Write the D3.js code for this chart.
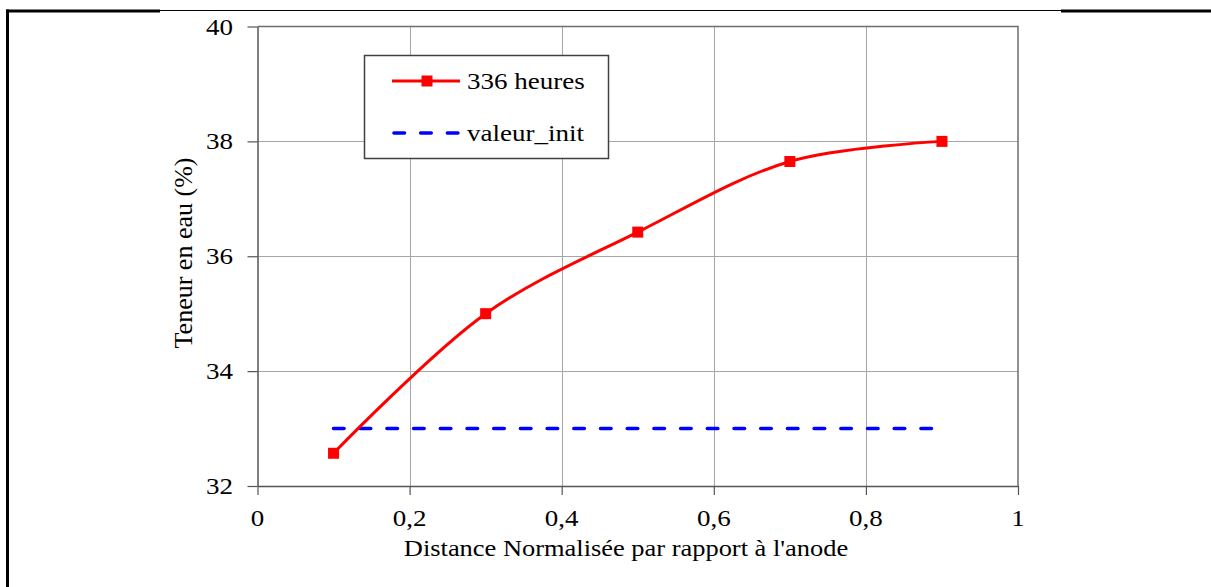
<!DOCTYPE html>
<html>
<head>
<meta charset="utf-8">
<script src="https://cdn.jsdelivr.net/npm/d3@7"></script>
<style>
  html, body { margin: 0; padding: 0; background: #fff; }
  svg { display: block; }
  text { font-family: "Liberation Serif", "Times New Roman", serif; fill: #000; }
</style>
</head>
<body>
<svg id="chart" width="1211" height="587"></svg>
<script>
// ---- data ----
const distances = [0.1, 0.3, 0.5, 0.7, 0.9];
const teneur336 = [32.57, 35.0, 36.42, 37.65, 38.0];
const valeurInit = [33.0, 33.0];
const valeurInitX = [0.1, 0.9];
const xTicks = [0, 0.2, 0.4, 0.6, 0.8, 1];
const yTicks = [32, 34, 36, 38, 40];
const seriesNames = ["336 heures", "valeur_init"];
const xTitle = "Distance Normalisée par rapport à l'anode";
const yTitle = "Teneur en eau (%)";

// ---- layout ----
const W = 1211, H = 587;
const plot = { left: 257.5, top: 26.5, right: 1018, bottom: 486 };
const svg = d3.select("#chart");

const x = d3.scaleLinear().domain([0, 1]).range([plot.left, plot.right]);
const y = d3.scaleLinear().domain([32, 40]).range([plot.bottom, plot.top]);
const fmt = d => String(d).replace(".", ",");
const SX = 1.15; // horizontal glyph stretch of the reference

// page frame (table border)
svg.append("line").attr("x1", 7.5).attr("x2", 7.5).attr("y1", 9.5).attr("y2", H)
  .attr("stroke", "#000").attr("stroke-width", 3);
svg.append("line").attr("x1", 6).attr("x2", 160).attr("y1", 11).attr("y2", 11)
  .attr("stroke", "#000").attr("stroke-width", 3);
svg.append("line").attr("x1", 160).attr("x2", 1061).attr("y1", 10.5).attr("y2", 10.5)
  .attr("stroke", "#000").attr("stroke-width", 1);
svg.append("line").attr("x1", 1061).attr("x2", 1211).attr("y1", 11).attr("y2", 11)
  .attr("stroke", "#000").attr("stroke-width", 3);

// grid
const grid = svg.append("g");
grid.selectAll("line.gx").data(xTicks.slice(1, -1)).join("line")
  .attr("x1", d => Math.round(x(d)) + 0.5).attr("x2", d => Math.round(x(d)) + 0.5)
  .attr("y1", plot.top).attr("y2", plot.bottom)
  .attr("stroke", "#a6a6a6").attr("stroke-width", 1);
grid.selectAll("line.gy").data(yTicks.slice(1, -1)).join("line")
  .attr("y1", d => Math.round(y(d)) + 0.5).attr("y2", d => Math.round(y(d)) + 0.5)
  .attr("x1", plot.left).attr("x2", plot.right)
  .attr("stroke", "#a6a6a6").attr("stroke-width", 1);

// plot border top/right
svg.append("path")
  .attr("d", `M${plot.left},${plot.top}H${plot.right}V${plot.bottom}`)
  .attr("fill", "none").attr("stroke", "#6e6e6e").attr("stroke-width", 1.5);

// axes
const xAxis = d3.axisBottom(x).tickValues(xTicks).tickFormat(() => "").tickSize(9).tickSizeOuter(0);
const yAxis = d3.axisLeft(y).tickValues(yTicks).tickFormat(() => "").tickSize(10).tickSizeOuter(0);
const gx = svg.append("g").attr("transform", `translate(0,${plot.bottom})`).call(xAxis);
const gy = svg.append("g").attr("transform", `translate(${plot.left},0)`).call(yAxis);
[gx, gy].forEach(g => {
  g.select(".domain").attr("stroke", "#555").attr("stroke-width", 1.5);
  g.selectAll(".tick line").attr("stroke", "#555").attr("stroke-width", 1.2);
});

// tick labels
svg.append("g").selectAll("text").data(xTicks).join("text")
  .attr("transform", d => `translate(${x(d)},526) scale(${SX},1)`)
  .attr("text-anchor", "middle").style("font-size", "23.5px").text(fmt);
svg.append("g").selectAll("text").data(yTicks).join("text")
  .attr("transform", d => `translate(233,${y(d) + 8}) scale(${SX},1)`)
  .attr("text-anchor", "end").style("font-size", "23.5px").text(fmt);

// axis titles
svg.append("text")
  .attr("transform", `translate(626,556) scale(${SX},1)`)
  .attr("text-anchor", "middle").style("font-size", "23px").text(xTitle);
svg.append("text")
  .attr("transform", `translate(192,253) rotate(-90)`)
  .attr("text-anchor", "middle").style("font-size", "26px").text(yTitle);

// series
const pts = distances.map((d, i) => [d, teneur336[i]]);
svg.append("path").datum(valeurInitX.map((d, i) => [d, valeurInit[i]]))
  .attr("d", d3.line().x(d => x(d[0])).y(d => y(d[1])))
  .attr("fill", "none").attr("stroke", "#0000ff").attr("stroke-width", 3.6)
  .attr("stroke-linecap", "round").attr("stroke-dasharray", "10.5,16.2");

svg.append("path").datum(pts)
  .attr("d", d3.line().x(d => x(d[0])).y(d => y(d[1])).curve(d3.curveCatmullRom.alpha(0.5)))
  .attr("fill", "none").attr("stroke", "#ff0000").attr("stroke-width", 3);
svg.append("g").selectAll("rect").data(pts).join("rect")
  .attr("x", d => x(d[0]) - 5.5).attr("y", d => y(d[1]) - 5.5)
  .attr("width", 11).attr("height", 11).attr("fill", "#ff0000");

// legend
const lg = svg.append("g");
lg.append("rect").attr("x", 364.5).attr("y", 55.5).attr("width", 244).attr("height", 103)
  .attr("fill", "#fff").attr("stroke", "#404040").attr("stroke-width", 1.5);
lg.append("line").attr("x1", 392).attr("x2", 460).attr("y1", 81).attr("y2", 81)
  .attr("stroke", "#ff0000").attr("stroke-width", 3);
lg.append("rect").attr("x", 427 - 5.5).attr("y", 81 - 5.5).attr("width", 11).attr("height", 11)
  .attr("fill", "#ff0000");
lg.append("line").attr("x1", 394).attr("x2", 460).attr("y1", 133).attr("y2", 133)
  .attr("stroke", "#0000ff").attr("stroke-width", 3.6).attr("stroke-linecap", "round")
  .attr("stroke-dasharray", "10.5,16.2");
lg.selectAll("text").data(seriesNames).join("text")
  .attr("transform", (d, i) => `translate(467,${i === 0 ? 89 : 141}) scale(${SX},1)`)
  .style("font-size", "23.5px").text(d => d);
</script>
</body>
</html>
